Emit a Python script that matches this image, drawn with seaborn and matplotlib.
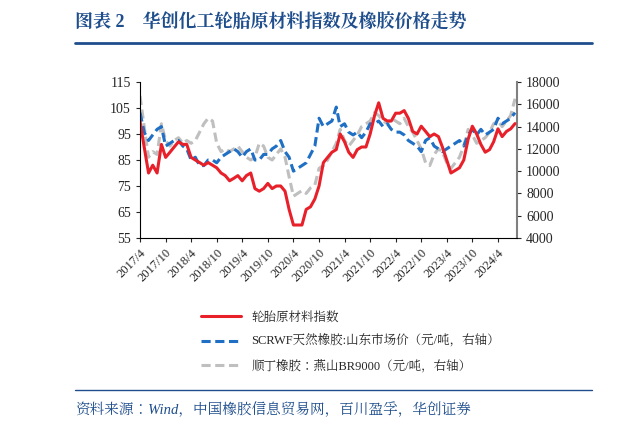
import numpy as np
import pandas as pd
import matplotlib
matplotlib.use("Agg")
import matplotlib.pyplot as plt
from matplotlib import font_manager as fm
import seaborn as sns

sns.set_style("white")

# find an installed CJK font and use it as fallback
cjk_name = None
for f in fm.fontManager.ttflist:
    if "CJK" in f.name and ("SC" in f.name or cjk_name is None):
        cjk_name = f.name
        if "SC" in f.name:
            break
if cjk_name is None:
    import glob
    for path in glob.glob("/usr/share/fonts/**/*CJK*", recursive=True):
        fm.fontManager.addfont(path)
        cjk_name = fm.FontProperties(fname=path).get_name()
        break
plt.rcParams["font.family"] = ["Liberation Serif", cjk_name or "Noto Sans CJK SC"]

# monthly values, 2017/4 .. 2024/8
dates = pd.date_range("2017-04-01", "2024-08-01", freq="MS")
tire_index = [100, 90, 80, 83, 80, 91, 86, 88, 90,
              92, 91, 91, 86, 85, 84, 83, 84, 83, 82, 80, 79,
              77, 78, 79, 77, 79, 80, 74, 73, 74, 76, 74, 75,
              75, 73, 66, 60, 60, 60, 66, 67, 70, 75, 84, 86,
              88, 89, 95, 92, 88, 86, 89, 90, 90, 95, 102, 107,
              101, 100, 100, 103, 103, 104, 101, 96, 95, 98, 96, 94,
              95, 94, 90, 85, 80, 81, 82, 85, 93, 98, 95, 91,
              88, 89, 92, 97, 94, 96, 97, 99]
scrwf = [15250, 13500, 12750, 13250, 13750, 14000, 12250, 12500, 12750,
         12750, 12250, 12000, 11000, 11250, 10500, 10500, 11000, 11000, 10750, 11250, 11500,
         11750, 12000, 11750, 11250, 11750, 12000, 11000, 11000, 11500, 11500, 12000, 12250,
         12750, 11750, 11250, 10000, 10250, 10500, 10750, 11500, 12250, 14750, 14000, 14250,
         14500, 15750, 14000, 14250, 13500, 13250, 13500, 13000, 13500, 14250, 14250, 14500,
         14000, 14250, 13750, 13500, 13500, 13250, 12750, 12500, 12250, 11750, 12750, 13000,
         12250, 12000, 11750, 12000, 12250, 12500, 12750, 12250, 13250, 13750, 13250, 13750,
         13250, 13500, 13750, 14750, 14250, 14500, 14750, 15250]
br9000 = [16750, 14000, 11250, 11750, 11500, 14250, 12750, 12250, 12750,
          13000, 12500, 12750, 12500, 12750, 13500, 14250, 14750, 14500, 12500, 11750, 12000,
          11750, 12000, 12250, 11750, 11250, 11000, 11250, 12500, 12250, 11250, 11000, 11500,
          12000, 11250, 9500, 7750, 8000, 8250, 8000, 8500, 8750, 10250, 10500, 11000,
          11750, 12500, 13750, 12750, 12250, 12750, 13250, 14000, 14250, 14500, 15250, 15000,
          14500, 14250, 14750, 14500, 14250, 14750, 14000, 13500, 12750, 12000, 10750, 10500,
          11500, 12000, 11750, 10750, 10250, 10750, 11250, 12250, 13750, 13250, 12500, 12750,
          13000, 13500, 14250, 14500, 14000, 14500, 15000, 16500]
tick_dates = pd.date_range("2017-04-01", "2024-04-01", freq="6MS")
tick_labels = [f"{d.year}/{d.month}" for d in tick_dates]

df = pd.DataFrame({"date": dates, "tire": tire_index, "scrwf": scrwf, "br": br9000})

fig = plt.figure(figsize=(6.2, 4.3), dpi=100)
ax = fig.add_axes([140 / 620, 1 - 238 / 430, 377 / 620, 156 / 430])
ax2 = ax.twinx()

navy = "#1F4E8C"
sns.lineplot(data=df, x="date", y="br", ax=ax2, color="#BFBFBF", lw=2.2,
             linestyle=(0, (3, 1.5)), label="顺丁橡胶：燕山BR9000（元/吨，右轴）", legend=False)
sns.lineplot(data=df, x="date", y="scrwf", ax=ax2, color="#1F6FC5", lw=2.2,
             linestyle=(0, (3, 1.5)), label="SCRWF天然橡胶:山东市场价（元/吨，右轴）", legend=False)
sns.lineplot(data=df, x="date", y="tire", ax=ax, color="#E8202A", lw=2.2,
             label="轮胎原材料指数", legend=False)
ax.set_zorder(ax2.get_zorder() + 1)
ax.patch.set_visible(False)

ax.set_ylim(55, 115)
ax.set_yticks(range(55, 116, 10))
ax2.set_ylim(4000, 18000)
ax2.set_yticks(range(4000, 18001, 2000))
ax.set_xlim(dates[0], pd.Timestamp("2024-08-15"))
ax.set_xticks(tick_dates)
ax.set_xticklabels(tick_labels, rotation=45, ha="right", rotation_mode="anchor", fontsize=9)
ax.tick_params(axis="x", length=3, direction="out", bottom=True)
ax.tick_params(axis="y", labelsize=10, length=3, left=True, direction="out")
ax2.tick_params(axis="y", labelsize=10, length=3, right=True, direction="out")
for a in (ax, ax2):
    a.set_xlabel("")
    a.set_ylabel("")
    a.spines["top"].set_visible(False)
ax.spines["right"].set_visible(False)
ax2.spines["left"].set_visible(False)
ax2.spines["bottom"].set_visible(False)
ax2.spines["right"].set_color("#808080")
ax2.spines["right"].set_linewidth(1.5)
ax.spines["left"].set_color("black")
ax.spines["bottom"].set_color("black")

h1, l1 = ax.get_legend_handles_labels()
h2, l2 = ax2.get_legend_handles_labels()
fig.legend(h1 + h2[::-1], l1 + l2[::-1], loc="upper left", bbox_to_anchor=(190 / 620, 1 - 300 / 430),
           frameon=False, fontsize=9, handlelength=3.2, labelspacing=0.9)

fig.text(75 / 620, 1 - 22 / 430, "图表 2    华创化工轮胎原材料指数及橡胶价格走势",
         fontsize=13, fontweight="bold", color=navy, va="center")
fig.add_artist(plt.Line2D([75 / 620, 592 / 620], [1 - 43 / 430] * 2, color=navy, lw=2))
fig.add_artist(plt.Line2D([75 / 620, 592 / 620], [1 - 390 / 430] * 2, color=navy, lw=1))
fig.text(75 / 620, 1 - 409 / 430, "资料来源：Wind，中国橡胶信息贸易网，百川盈孚，华创证券",
         fontsize=10.5, style="italic", color=navy, va="center")

fig.savefig("out.png", dpi=100)
